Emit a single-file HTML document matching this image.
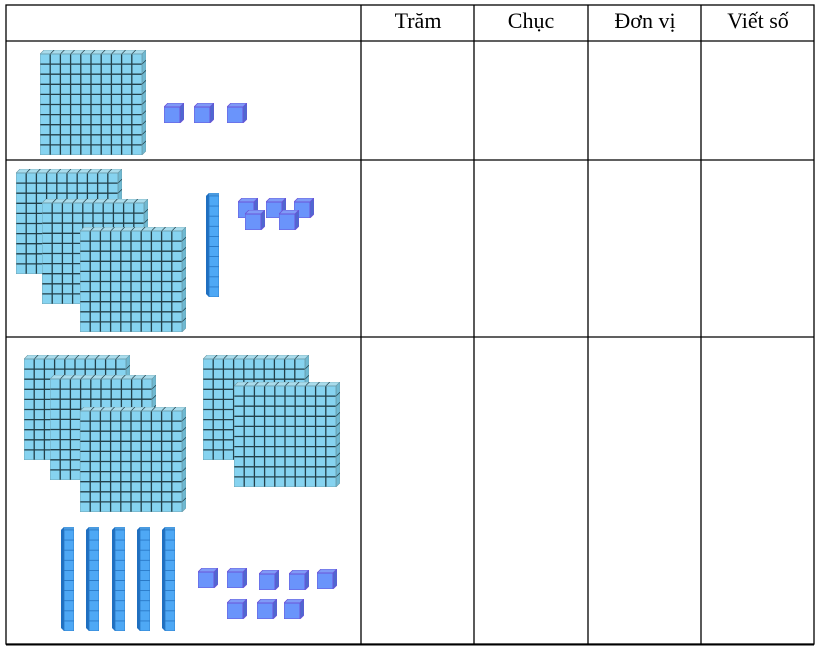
<!DOCTYPE html>
<html><head><meta charset="utf-8"><style>
html,body{margin:0;padding:0;background:#fff;width:818px;height:649px;overflow:hidden}
svg{display:block}
text{font-family:"Liberation Serif",serif;font-size:22px;fill:#000}
</style></head><body>
<svg width="818" height="649" viewBox="0 0 818 649" xmlns="http://www.w3.org/2000/svg">
<defs>
<symbol id="h" viewBox="0 0 106 105" width="106" height="105">
<polygon points="0,4 4,0 106,0 102,4" fill="#a9dcec" stroke="#6a9aa8" stroke-width="0.6"/>
<polygon points="102,4 106,0 106,101 102,105" fill="#6fb9d2" stroke="#6a9aa8" stroke-width="0.6"/>
<rect x="0" y="4" width="102" height="101" fill="#86d3f0"/>
<g stroke="#22404a" stroke-width="1.3">
<path d="M10.2 4V105M20.4 4V105M30.6 4V105M40.8 4V105M51 4V105M61.2 4V105M71.4 4V105M81.6 4V105M91.8 4V105"/>
<path d="M0 14.1H102M0 24.2H102M0 34.3H102M0 44.4H102M0 54.5H102M0 64.6H102M0 74.7H102M0 84.8H102M0 94.9H102"/>
<path d="M14.2 0l-4 4M24.4 0l-4 4M34.6 0l-4 4M44.8 0l-4 4M55 0l-4 4M65.2 0l-4 4M75.4 0l-4 4M85.6 0l-4 4M95.8 0l-4 4" stroke-width="0.7"/>
<path d="M102 14.1l4 -4M102 24.2l4 -4M102 34.3l4 -4M102 44.4l4 -4M102 54.5l4 -4M102 64.6l4 -4M102 74.7l4 -4M102 84.8l4 -4M102 94.9l4 -4" stroke-width="0.7"/>
</g>
<rect x="0" y="4" width="102" height="101" fill="none" stroke="#6a9aa8" stroke-width="0.8"/>
</symbol>
<symbol id="r" viewBox="0 0 13 104" width="13" height="104">
<polygon points="0,3 3,0 13,0 13,3" fill="#4a9be0"/>
<polygon points="0,3 3,0 3,104 0,101" fill="#1f6fc0"/>
<rect x="3" y="3" width="10" height="101" fill="#4ea8f5" stroke="#2a79c6" stroke-width="0.8"/>
<path d="M3 13.1H13M3 23.2H13M3 33.3H13M3 43.4H13M3 53.5H13M3 63.6H13M3 73.7H13M3 83.8H13M3 93.9H13" stroke="#2a79c6" stroke-width="0.9"/>
</symbol>
<symbol id="u" viewBox="0 0 20 20" width="20" height="20">
<polygon points="0,4 4,0 20,0 16,4" fill="#7f9af7" stroke="#6a55d8" stroke-width="0.8"/>
<polygon points="16,4 20,0 20,16 16,20" fill="#4f68d0" stroke="#6a55d8" stroke-width="0.8"/>
<rect x="0" y="4" width="16" height="16" fill="#6a94fb" stroke="#6a55d8" stroke-width="1"/>
</symbol>
</defs>
<g stroke="#000" stroke-width="1.3" fill="none">
<rect x="6" y="5" width="808" height="639"/>
<path d="M6 41H814M6 160H814M6 337H814"/>
<path d="M361 5V644M474 5V644M588 5V644M701 5V644"/>
</g>
<path d="M6 644.5H814" stroke="#000" stroke-width="2"/>
<text x="418" y="28" text-anchor="middle">Trăm</text>
<text x="531" y="28" text-anchor="middle">Chục</text>
<text x="645" y="28" text-anchor="middle">Đơn vị</text>
<text x="758" y="28" text-anchor="middle">Viết số</text>
<use href="#h" x="40" y="50"/>
<use href="#u" x="164" y="103"/>
<use href="#u" x="194" y="103"/>
<use href="#u" x="227" y="103"/>
<use href="#h" x="16" y="169"/>
<use href="#h" x="42" y="199"/>
<use href="#h" x="80" y="227"/>
<use href="#r" x="206" y="193"/>
<use href="#u" x="238" y="198"/>
<use href="#u" x="266" y="198"/>
<use href="#u" x="294" y="198"/>
<use href="#u" x="245" y="210"/>
<use href="#u" x="279" y="210"/>
<use href="#h" x="24" y="355"/>
<use href="#h" x="50" y="375"/>
<use href="#h" x="80" y="407"/>
<use href="#h" x="203" y="355"/>
<use href="#h" x="234" y="382"/>
<use href="#r" x="61" y="527"/>
<use href="#r" x="86" y="527"/>
<use href="#r" x="112" y="527"/>
<use href="#r" x="137" y="527"/>
<use href="#r" x="162" y="527"/>
<use href="#u" x="198" y="568"/>
<use href="#u" x="227" y="568"/>
<use href="#u" x="259" y="570"/>
<use href="#u" x="289" y="570"/>
<use href="#u" x="317" y="569"/>
<use href="#u" x="227" y="599"/>
<use href="#u" x="257" y="599"/>
<use href="#u" x="284" y="599"/>
</svg>
</body></html>
